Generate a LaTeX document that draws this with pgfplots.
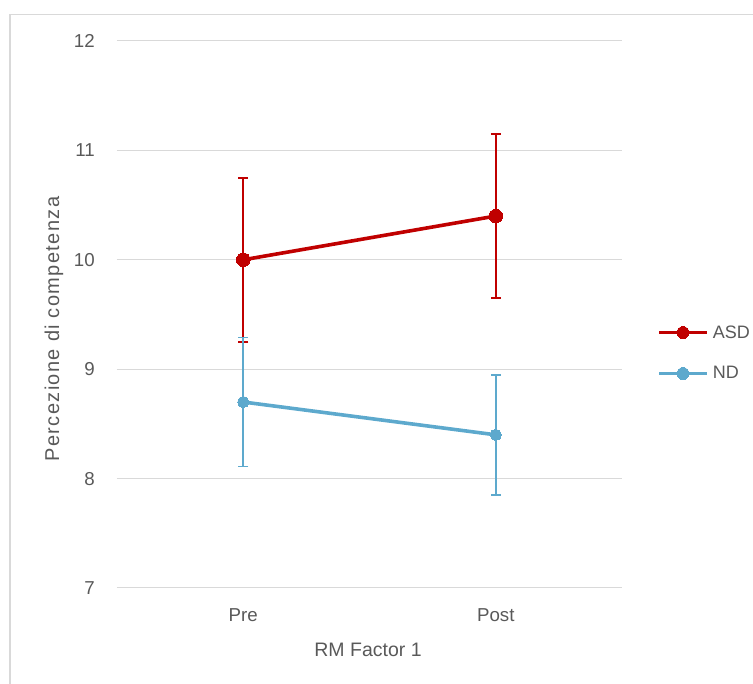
\documentclass[border=0pt]{standalone}
\usepackage{fontspec}
\setmainfont{Liberation Sans}
\usepackage{pgfplots}
\pgfplotsset{compat=1.18}
\definecolor{asd}{HTML}{C00000}
\definecolor{nd}{HTML}{5DA9CD}
\definecolor{gridc}{HTML}{D9D9D9}
\definecolor{txt}{HTML}{595959}
\begin{document}
\begin{tikzpicture}[x=1pt,y=1pt]
\path[use as bounding box] (0,0) rectangle (753,684);
\draw[gridc, line width=1.5pt] (10,-5) -- (10,669.5) -- (760,669.5);
\begin{axis}[
  at={(117pt,96pt)}, anchor=south west,
  scale only axis, width=505pt, height=547pt,
  xmin=-0.5, xmax=1.5, ymin=7, ymax=12,
  ytick={7,8,9,10,11,12},
  xtick={0,1}, xticklabels={Pre,Post},
  ymajorgrids, grid style={gridc, line width=1pt},
  axis line style={draw=none},
  major tick length=0pt,
  /pgf/number format/assume math mode=true,
  tick label style={font=\fontsize{18.7}{20}\selectfont, text=txt, inner sep=0pt},
  yticklabel style={anchor=east, xshift=-22pt},
  xticklabel style={anchor=north, yshift=-20pt},
  legend style={at={(1.0693,0.4296)}, anchor=west, draw=none, fill=none,
    font=\fontsize{18}{20}\selectfont, text=txt, inner sep=0pt,
    nodes={inner sep=0pt}, row sep=27pt, column sep=4pt},
  legend cell align=left,
  legend image code/.code={\draw[mark repeat=2,mark phase=2,#1,mark size=6pt] plot coordinates {(0pt,0pt) (24pt,0pt) (48pt,0pt)};},
  clip=false,
]
\addplot[asd, line width=3.6pt, mark=*, mark size=6.8pt, mark options={solid, fill=asd, draw=asd, line width=0pt},
  error bars/.cd, y dir=both, y explicit,
  error bar style={line width=1.8pt, asd},
  error mark options={rotate=90, asd, mark size=5pt, line width=1.8pt}]
  coordinates {(0,10.0) +- (0,0.75) (1,10.4) +- (0,0.75)};
\addlegendentry{ASD}
\addplot[nd, line width=3.6pt, mark=*, mark size=5.6pt, mark options={solid, fill=nd, draw=nd, line width=0pt},
  error bars/.cd, y dir=both, y explicit,
  error bar style={line width=1.8pt, nd},
  error mark options={rotate=90, nd, mark size=5pt, line width=1.8pt}]
  coordinates {(0,8.7) +- (0,0.59) (1,8.4) +- (0,0.55)};
\addlegendentry{ND}
\end{axis}
\node[rotate=90, text=txt, font=\fontsize{20}{22}\addfontfeatures{LetterSpace=7}, inner sep=0pt] at (54,355) {Percezione di competenza};
\node[text=txt, font=\fontsize{19.5}{22}\selectfont, inner sep=0pt] at (368,34) {RM Factor 1};
\end{tikzpicture}
\end{document}
